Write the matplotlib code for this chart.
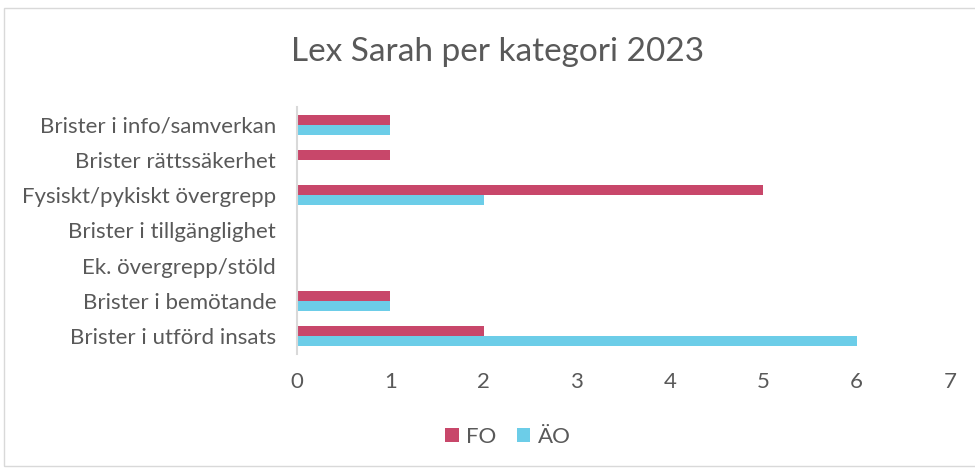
import matplotlib.pyplot as plt
import matplotlib.patches as mpatches
import numpy as np

plt.rcParams['font.family'] = ['Lato', 'DejaVu Sans']

kategorier = ['Brister i utförd insats', 'Brister i bemötande', 'Ek. övergrepp/stöld',
              'Brister i tillgänglighet', 'Fysiskt/pykiskt övergrepp',
              'Brister rättssäkerhet', 'Brister i info/samverkan']
fo = [2, 1, 0, 0, 5, 1, 1]
ao = [6, 1, 0, 0, 2, 0, 1]

fo_farg = '#C8476A'
ao_farg = '#6CCDE8'
text_farg = '#595959'

fig = plt.figure(figsize=(9.75, 4.68), dpi=100)
ax = fig.add_axes([0.3046, 0.244, 0.6697, 0.527])

y = np.arange(len(kategorier))
h = 0.29
ax.barh(y + h / 2, fo, height=h, color=fo_farg, label='FO')
ax.barh(y - h / 2, ao, height=h, color=ao_farg, label='ÄO')

ax.set_xlim(0, 7)
ax.set_ylim(-0.5, len(kategorier) - 0.5)
ax.set_yticks(y)
ax.set_yticklabels(kategorier, fontsize=16, color=text_farg)
ax.set_xticks(range(8))
ax.tick_params(axis='x', labelsize=16, colors=text_farg, length=0, pad=13)
ax.tick_params(axis='y', length=0, pad=15)
for s in ['top', 'right', 'bottom']:
    ax.spines[s].set_visible(False)
ax.spines['left'].set_color('#d9d9d9')
ax.spines['left'].set_linewidth(1.5)

fig.text(0.510, 0.888, 'Lex Sarah per kategori 2023', ha='center', va='center',
         fontsize=24, color=text_farg)

fig.legend(loc='center', bbox_to_anchor=(0.521, 0.066), ncol=2, frameon=False,
           fontsize=16, labelcolor=text_farg, handlelength=0.6, handleheight=0.6,
           columnspacing=0.9, handletextpad=0.35)

fig.patches.append(mpatches.Rectangle((4 / 975, 0.004), 1.0, 1 - 8 / 468 - 0.004,
                                      transform=fig.transFigure, fill=False,
                                      edgecolor='#d9d9d9', linewidth=1))

fig.savefig('out.png', dpi=100)
